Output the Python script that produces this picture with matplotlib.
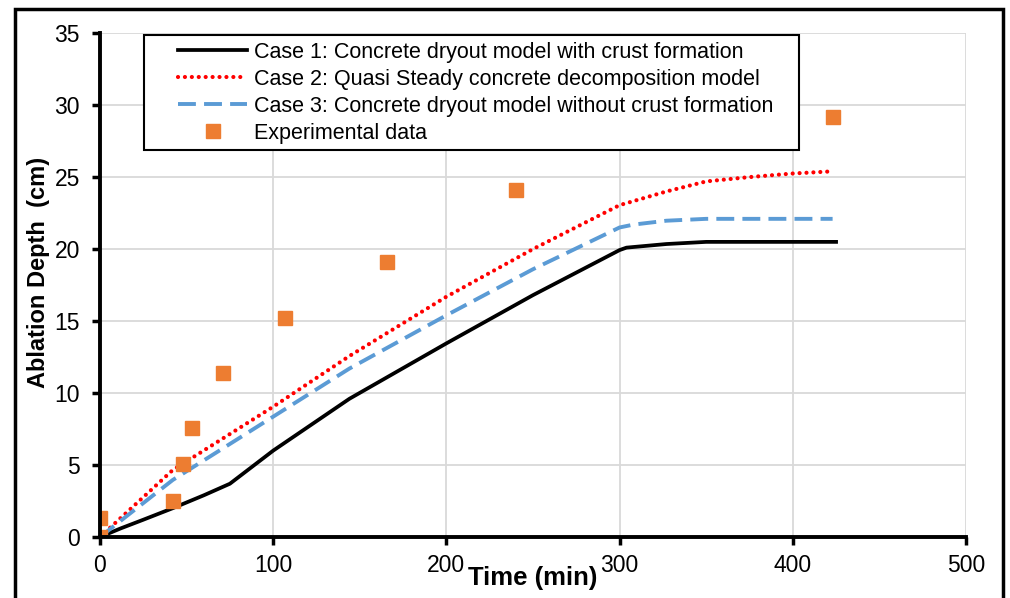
import matplotlib.pyplot as plt
from matplotlib.patches import Rectangle
from matplotlib.lines import Line2D
from matplotlib.legend_handler import HandlerLine2D

plt.rcParams['font.family'] = ['Liberation Sans', 'DejaVu Sans']

# Case 1: dryout model with crust formation
t_case1 = [0, 12, 25, 42, 60, 75, 100, 144, 200, 250, 300, 304, 327, 350, 425]
d_case1 = [0, 0.6, 1.2, 2.0, 2.9, 3.7, 6.0, 9.6, 13.45, 16.8, 19.93, 20.1, 20.35, 20.5, 20.5]

# Case 2: quasi steady decomposition model
t_case2 = [0, 42, 100, 144, 200, 250, 300, 327, 350, 375, 400, 423]
d_case2 = [0, 4.65, 9.05, 12.57, 16.69, 20.0, 23.05, 24.0, 24.7, 25.0, 25.25, 25.4]

# Case 3: dryout model without crust formation
t_case3 = [0, 42, 100, 144, 200, 250, 300, 308, 327, 350, 423]
d_case3 = [0, 3.96, 8.36, 11.7, 15.4, 18.6, 21.5, 21.7, 21.97, 22.1, 22.1]

# experiment
t_exp = [0, 0, 42, 48, 53, 71, 107, 166, 240, 423]
d_exp = [0, 1.3, 2.5, 5.1, 7.6, 11.4, 15.2, 19.1, 24.1, 29.2]

x_ticks = [0, 100, 200, 300, 400, 500]
y_ticks = [0, 5, 10, 15, 20, 25, 30, 35]

fig = plt.figure(figsize=(10.1, 5.98), dpi=100)
ax = fig.add_axes([0.099, 0.102, 0.8574, 0.8426])

ax.plot(t_case1, d_case1, color='black', lw=2.7,
        label='Case 1: Concrete dryout model with crust formation')
ax.plot(t_case2, d_case2, color='red', lw=3.0, linestyle=(0, (0.01, 1.65)),
        dash_capstyle='round',
        label='Case 2: Quasi Steady concrete decomposition model')
ax.plot(t_case3, d_case3, color='#5B9BD5', lw=2.8, linestyle=(0, (4.6, 2.1)),
        label='Case 3: Concrete dryout model without crust formation')
ax.plot(t_exp, d_exp, linestyle='none', marker='s', ms=9.5, color='#ED7D31',
        markeredgecolor='#ED7D31', label='Experimental data')

ax.set_xlim(0, 500)
ax.set_ylim(0, 35)
ax.set_xticks(x_ticks)
ax.set_yticks(y_ticks)
ax.grid(True, color='#D9D9D9', lw=1.3)
ax.set_axisbelow(True)
for s in ['top', 'right']:
    ax.spines[s].set_visible(False)
for s in ['left', 'bottom']:
    ax.spines[s].set_linewidth(2.8)
ax.tick_params(direction='out', length=5.5, width=2.5, labelsize=16.5, pad=7)
ax.tick_params(axis='y', pad=9)

ax.set_xlabel('Time (min)', fontsize=18.5, fontweight='bold')
ax.xaxis.set_label_coords(0.5, -0.058)
ax.set_ylabel('Ablation Depth  (cm)', fontsize=17, fontweight='bold')
ax.yaxis.set_label_coords(-0.058, 0.526)

hl = HandlerLine2D(xpad=1.28)
leg = ax.legend(loc='upper left', bbox_to_anchor=(0.0508, 0.996, 0.7564, 0.0),
                mode='expand', fontsize=15.5,
                frameon=True, fancybox=False, handlelength=4.5,
                borderpad=0.3, labelspacing=0.28, handletextpad=0.33,
                borderaxespad=0, handler_map={Line2D: hl})
leg.get_frame().set_edgecolor('black')
leg.get_frame().set_linewidth(1.5)
leg.get_frame().set_alpha(1)

# outer frame around the whole picture
fig.patches.append(Rectangle((15 / 1010, -0.01), 988 / 1010, 1 - 9 / 598 + 0.01,
                             transform=fig.transFigure, fill=False,
                             edgecolor='black', lw=2.5))

fig.savefig('out.png', dpi=100)
